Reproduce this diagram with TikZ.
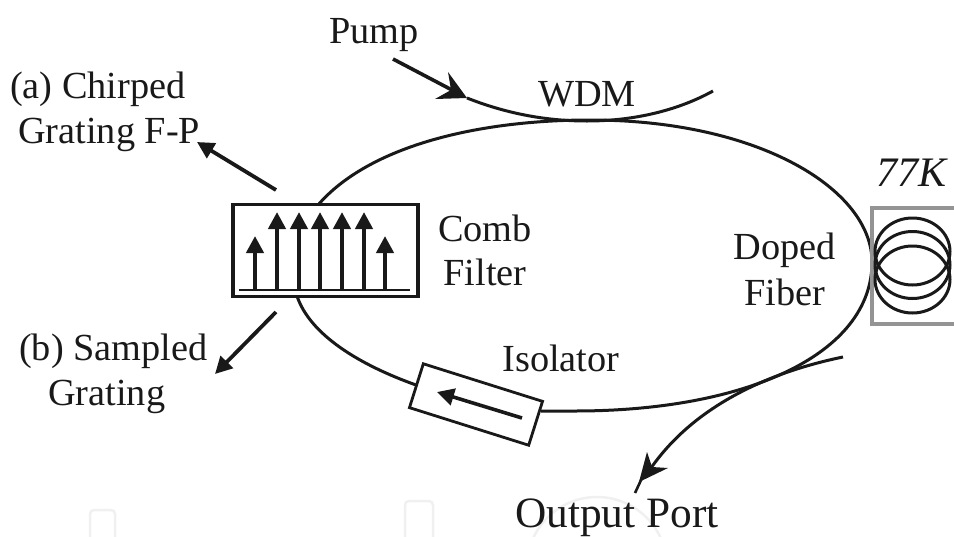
\documentclass[tikz,border=0pt]{standalone}
\usepackage{fontspec}
\setmainfont{Liberation Serif}
\usetikzlibrary{arrows.meta}
\definecolor{ink}{gray}{0.1}
\begin{document}
\begin{tikzpicture}[x=1pt,y=-1pt,
  lab/.style={font=\fontsize{38.3}{40}\selectfont,inner sep=0pt,align=center,text=ink},
  fiber/.style={draw=ink,line width=3pt},
  thick arrow/.style={draw=ink,line width=3.8pt,-{Triangle[length=17pt,width=17pt]}},
  comb/.style={draw=ink,line width=4.2pt,-{Triangle[length=17pt,width=17pt]}},
  headfill/.style={fill=ink,draw=none},
  faint/.style={draw=black!6,line width=2.5pt}]
\useasboundingbox (0,0) rectangle (954,536);
% faint background marks
\begin{scope}
\clip (0,0) rectangle (954,536);
\draw[faint,rounded corners=4pt] (90,540) -- (90,510) -- (115,510) -- (115,540);
\draw[faint,rounded corners=4pt] (405,540) -- (405,501) -- (433,501) -- (433,540);
\draw[faint] (597,567) circle (70);
\end{scope}
% ring
\draw[fiber] (318,205) .. controls (370,145) and (480,120) .. (590,120)
  .. controls (760,120) and (872,190) .. (872,262)
  .. controls (872,355) and (745,411) .. (575,411)
  .. controls (565,411) and (550,411) .. (541,411);
\draw[fiber] (297,296) .. controls (310,335) and (360,365) .. (416,385);
% WDM
\coordinate (pumpTail) at (393,59);
\coordinate (pumpTip) at (467,98);
\draw[fiber] (pumpTip) .. controls (510,115) and (550,121) .. (587,121)
  .. controls (630,121) and (675,112) .. (713,91);
\draw[draw=ink,line width=3.6pt] (pumpTail) -- (452,90);
\fill[headfill] (pumpTip) -- (448,72) -- (451,90) -- (435,99) -- cycle;
% output
\coordinate (outStart) at (843,357);
\coordinate (outEnd) at (635,493);
\coordinate (outTip) at (639,482);
\draw[fiber] (outStart) .. controls (770,372) and (695,405) .. (651,468);
\fill[headfill] (outTip) -- (647,452) -- (652,467) -- (668,468) -- cycle;
\draw[draw=ink,line width=2.6pt] (642,478) -- (outEnd);
% comb box
\node[draw=ink,line width=3.4pt,minimum width=185pt,minimum height=92pt,inner sep=0pt] (cb) at (325.5,250.5) {};
\draw[ink,line width=2.8pt] (239,290) -- (410,290);
\foreach \x/\t in {255/236,277/212,299/212,320/212,342/212,364/212,385/236}
  \draw[comb] (\x,290) -- (\x,\t);
% comb arrows
\draw[thick arrow] (276,190) -- (197,142);
\draw[thick arrow] (276,312) -- (215,374);
% isolator
\node[draw=ink,line width=2.8pt,fill=white,minimum width=125pt,minimum height=46pt,rotate=-17.5,inner sep=0pt] (iso) at (476,404.5) {};
\draw[ink,line width=3.6pt,-{Triangle[length=17pt,width=17pt]}] (522,418) -- (437,392);
% cooler
\draw[draw=black!42,line width=4pt] (956,208) -- (872,208) -- (872,324) -- (956,324);
\draw[fiber] (912.5,251.5) ellipse (37.5 and 33.5);
\draw[fiber] (912.5,265) ellipse (37.5 and 33.5);
\draw[fiber] (912.5,279.5) ellipse (37.5 and 33.5);
% labels
\node[lab] (t1) at (374,35) {Pump};
\node[lab] (t2) at (587,94) {WDM};
\node[lab,anchor=west] (t3) at (10,89) {(a) Chirped};
\node[lab,anchor=west] (t4) at (18,135) {Grating F-P};
\node[lab] (t5) at (485,228) {Comb};
\node[lab] (t6) at (485,272) {Filter};
\node[lab] (t7) at (785,250) {Doped};
\node[lab] (t8) at (785,292) {Fiber};
\node[lab,font=\fontsize{42}{44}\selectfont\itshape] (t9) at (911,173) {77K};
\node[lab,anchor=west] (t10) at (19,351) {(b) Sampled};
\node[lab,anchor=west] (t11) at (48,397) {Grating};
\node[lab] (t12) at (561,358) {Isolator};
\node[lab,font=\fontsize{43.3}{44}\selectfont] (t13) at (617,518) {Output Port};
\end{tikzpicture}
\end{document}
